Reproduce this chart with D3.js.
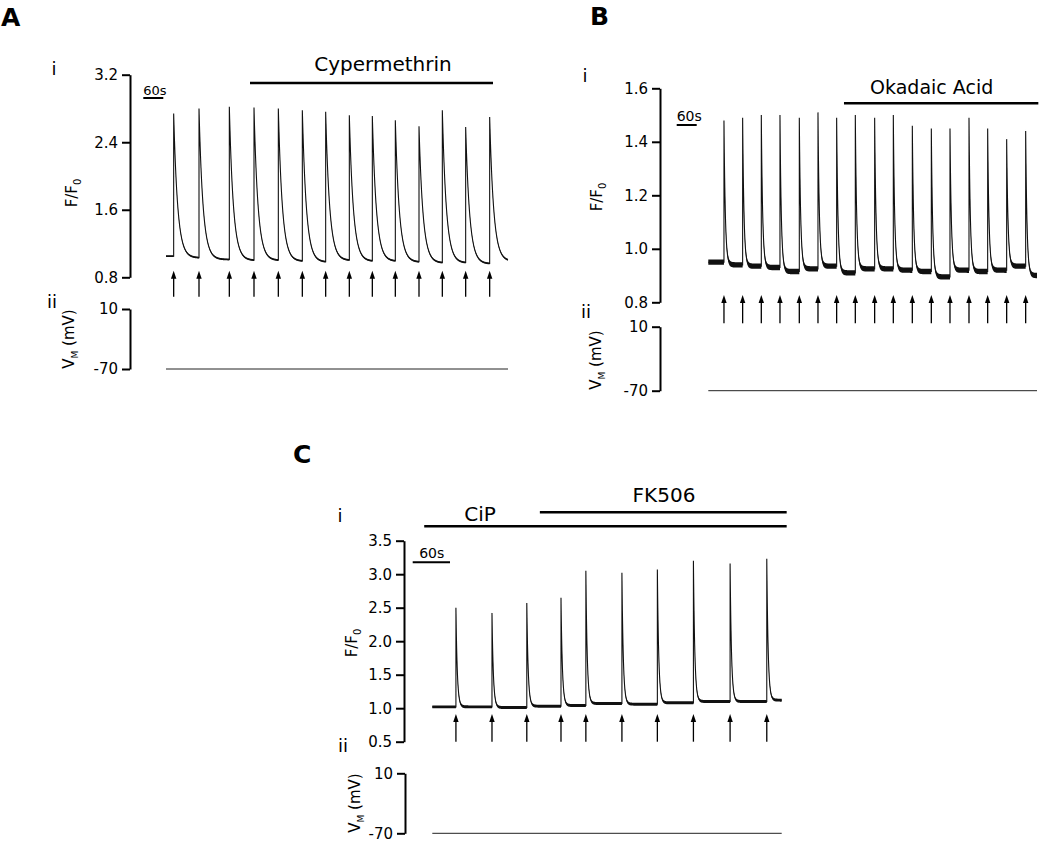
<!DOCTYPE html>
<html><head><meta charset="utf-8">
<script src="https://cdn.jsdelivr.net/npm/d3@7"></script>
<style>
body{margin:0;background:#fff;}
svg{display:block;font-family:"DejaVu Sans",sans-serif;}
</style></head><body>
<svg id="fig" width="1039" height="842"></svg>
<script>
// ================= DATA =================
// Panel A – Cypermethrin
const timesA = [23, 99, 190, 264, 337, 409, 479, 550, 619, 688, 759, 829, 899, 971];          // stimulus times (s)
const peaksA = [2.74, 2.80, 2.82, 2.81, 2.80, 2.78, 2.76, 2.72, 2.71, 2.66, 2.59, 2.78, 2.58, 2.70]; // F/F0 peaks
const baseA  = [1.05, 1.03, 1.01, 1.00, 1.00, 0.99, 0.98, 1.00, 0.99, 0.99, 0.98, 0.97, 0.97, 0.96, 0.99]; // resting F/F0 per interval
const durationA = 1026, tauA = 12, noiseA = 0.011;
const fTicksA = [0.8, 1.6, 2.4, 3.2];
const drugNamesA = ["Cypermethrin"], drugStartA = [252], drugEndA = [981];

// Panel B – Okadaic Acid
const timesB = [47, 103, 159, 215, 273, 329, 385, 441, 499, 555, 612, 669, 725, 782, 838, 895, 952];
const peaksB = [1.48, 1.49, 1.50, 1.50, 1.49, 1.51, 1.49, 1.50, 1.49, 1.50, 1.46, 1.45, 1.45, 1.49, 1.45, 1.41, 1.44];
const baseB  = [0.95, 0.94, 0.935, 0.93, 0.915, 0.925, 0.935, 0.91, 0.925, 0.925, 0.92, 0.915, 0.895, 0.92, 0.915, 0.92, 0.935, 0.90];
const durationB = 986, tauB = 4, noiseB = 0.010;
const fTicksB = [0.8, 1.0, 1.2, 1.4, 1.6];
const drugNamesB = ["Okadaic Acid"], drugStartB = [407], drugEndB = [990];

// Panel C – CiP + FK506
const timesC = [38, 96, 152, 207, 247, 305, 362, 420, 479, 538];
const peaksC = [2.50, 2.42, 2.57, 2.65, 3.05, 3.02, 3.07, 3.20, 3.16, 3.23];
const baseC  = [1.02, 1.02, 1.01, 1.03, 1.04, 1.07, 1.06, 1.08, 1.10, 1.10, 1.12];
const durationC = 562, tauC = 2.2, noiseC = 0.022;
const fTicksC = [0.5, 1.0, 1.5, 2.0, 2.5, 3.0, 3.5];
const drugNamesC = ["CiP", "FK506"], drugStartC = [-13, 173], drugEndC = [570, 570];

const vmTicks = [-70, 10];
const restingVm = -70;
const scaleBarSeconds = 60;

// ================= LAYOUT =================
const panels = [
  {letter:"A", times:timesA, peaks:peaksA, base:baseA, dur:durationA, tau:tauA, noise:noiseA, ticks:fTicksA,
   drugs:drugNamesA, dS:drugStartA, dE:drugEndA,
   L:{x0:166, x1:508, ax:130, vax:130, fTop:74.7, fBot:277.3, vTop:309, vBot:369, tip:270.7, tail:296.7,
      letter:[1,26], i:[54,75], ii:[52,308], fLab:[77,193], fSize:15, vLab:[74,339],
      drugLabel:[[383,71]], drugY:[83], drugFont:20, sb:[143.3,98], sbText:[143.3,94.5,"start"], sbFont:13}},
  {letter:"B", times:timesB, peaks:peaksB, base:baseB, dur:durationB, tau:tauB, noise:noiseB, ticks:fTicksB,
   drugs:drugNamesB, dS:drugStartB, dE:drugEndB,
   L:{x0:708.3, x1:1037, ax:660, vax:660, fTop:88.3, fBot:302.3, vTop:326.7, vBot:390.7, tip:295, tail:323.3,
      letter:[590,25], i:[585,82], ii:[586,318], fLab:[602,197], fSize:15, vLab:[601,360],
      drugLabel:[[931.7,94.3]], drugY:[103.3], drugFont:19, sb:[676.7,125], sbText:[676.7,120.5,"start"], sbFont:14}},
  {letter:"C", times:timesC, peaks:peaksC, base:baseC, dur:durationC, tau:tauC, noise:noiseC, ticks:fTicksC,
   drugs:drugNamesC, dS:drugStartC, dE:drugEndC,
   L:{x0:432.3, x1:781.7, ax:404, vax:405, fTop:540.7, fBot:741.7, vTop:773.3, vBot:833.3, tip:714, tail:741.7,
      letter:[293,463], i:[340,522], ii:[343,752], fLab:[357,643], fSize:15, vLab:[360,803],
      drugLabel:[[480,520.7],[664,502.3]], drugY:[526.3,512.3], drugFont:20, sb:[412.7,562.3], sbText:[431.7,557.5,"middle"], sbFont:14}}
];

const svg = d3.select("#fig");
svg.append("defs").append("marker")
  .attr("id","ah").attr("markerUnits","userSpaceOnUse")
  .attr("viewBox","0 -4 10 8").attr("refX",1).attr("refY",0)
  .attr("markerWidth",10).attr("markerHeight",8).attr("orient","auto")
  .append("path").attr("d","M0,-2.7L8,0L0,2.7Z").attr("fill","#000");

function trace(p){
  const pts = [];
  const step = p.dur > 800 ? 0.5 : 0.25;
  const valueAt = t => {
    let k = -1;
    for (let j=0;j<p.times.length;j++) if (p.times[j] <= t) k = j;
    if (k < 0) return p.base[0];
    const b = p.base[k+1];
    return b + (p.peaks[k] - b) * Math.exp(-(t - p.times[k]) / p.tau);
  };
  const ts = d3.range(0, p.dur + 1e-9, step);
  p.times.forEach(t => { ts.push(t - 0.001); ts.push(t); });
  ts.sort((a,b)=>a-b);
  ts.forEach(t => pts.push({t, v: valueAt(t)}));
  return pts;
}

panels.forEach(p => {
  const L = p.L;
  const g = svg.append("g");
  const x = d3.scaleLinear().domain([0, p.dur]).range([L.x0, L.x1]);
  const y = d3.scaleLinear().domain([p.ticks[0], p.ticks[p.ticks.length-1]]).range([L.fBot, L.fTop]);
  const yv = d3.scaleLinear().domain([vmTicks[0], vmTicks[1]]).range([L.vBot, L.vTop]);

  // panel letter & sub labels
  g.append("text").attr("x",L.letter[0]).attr("y",L.letter[1]).attr("font-size",25).attr("font-weight","bold").text(p.letter);
  g.append("text").attr("x",L.i[0]).attr("y",L.i[1]).attr("font-size",18).attr("text-anchor","middle").text("i");
  g.append("text").attr("x",L.ii[0]).attr("y",L.ii[1]).attr("font-size",18).attr("text-anchor","middle").text("ii");

  // axes
  const fAxis = d3.axisLeft(y).tickValues(p.ticks).tickFormat(d3.format(".1f")).tickSize(8).tickSizeOuter(0).tickPadding(4);
  const ga = g.append("g").attr("transform",`translate(${L.ax},0)`).call(fAxis);
  const vAxis = d3.axisLeft(yv).tickValues(vmTicks).tickFormat(d => String(d)).tickSize(8).tickSizeOuter(0).tickPadding(4);
  const gv = g.append("g").attr("transform",`translate(${L.vax},0)`).call(vAxis);
  [ga,gv].forEach(a => {
    a.attr("font-size",15).attr("font-family","DejaVu Sans, sans-serif");
    a.select(".domain").attr("stroke","#000").attr("stroke-width",2);
    a.selectAll(".tick line").attr("stroke","#000").attr("stroke-width",2);
    a.selectAll(".tick text").attr("fill","#000");
  });

  // axis titles
  const fl = g.append("text").attr("transform",`translate(${L.fLab[0]},${L.fLab[1]}) rotate(-90)`)
    .attr("text-anchor","middle").attr("font-size",L.fSize);
  fl.append("tspan").text("F/F");
  fl.append("tspan").attr("font-size",10).attr("dy",4).text("0");
  const vl = g.append("text").attr("transform",`translate(${L.vLab[0]},${L.vLab[1]}) rotate(-90)`)
    .attr("text-anchor","middle").attr("font-size",15);
  vl.append("tspan").text("V");
  vl.append("tspan").attr("font-size",9).attr("dy",4).text("M");
  vl.append("tspan").attr("dy",-4).text(" (mV)");

  // drug bars
  p.drugs.forEach((name, i) => {
    g.append("line").attr("x1",x(p.dS[i])).attr("x2",x(p.dE[i])).attr("y1",L.drugY[i]).attr("y2",L.drugY[i])
      .attr("stroke","#000").attr("stroke-width",2.6);
    g.append("text").attr("x",L.drugLabel[i][0]).attr("y",L.drugLabel[i][1]).attr("text-anchor","middle")
      .attr("font-size",L.drugFont).text(name);
  });

  // 60 s scale bar
  const sbLen = x(scaleBarSeconds) - x(0);
  g.append("line").attr("x1",L.sb[0]).attr("x2",L.sb[0]+sbLen).attr("y1",L.sb[1]).attr("y2",L.sb[1])
    .attr("stroke","#000").attr("stroke-width",2);
  g.append("text").attr("x",L.sbText[0]).attr("y",L.sbText[1]).attr("text-anchor",L.sbText[2])
    .attr("font-size",L.sbFont).text(scaleBarSeconds + "s");

  // fluorescence trace
  const data = trace(p);
  g.append("path").datum(data)
    .attr("d", d3.area().x(d=>x(d.t)).y0(d=>y(d.v - p.noise)).y1(d=>y(d.v + p.noise)))
    .attr("fill","#111");
  g.append("path").datum(data)
    .attr("d", d3.line().x(d=>x(d.t)).y(d=>y(d.v)))
    .attr("fill","none").attr("stroke","#111").attr("stroke-width",1.1);

  // stimulus arrows
  g.selectAll(".arr").data(p.times).enter().append("line")
    .attr("x1",d=>x(d)).attr("x2",d=>x(d)).attr("y1",L.tail).attr("y2",L.tip+7)
    .attr("stroke","#000").attr("stroke-width",1.3).attr("marker-end","url(#ah)");

  // membrane potential trace
  g.append("line").attr("x1",x(0)).attr("x2",x(p.dur)).attr("y1",yv(restingVm)).attr("y2",yv(restingVm))
    .attr("stroke","#222").attr("stroke-width",1);
});
</script>
</body></html>
